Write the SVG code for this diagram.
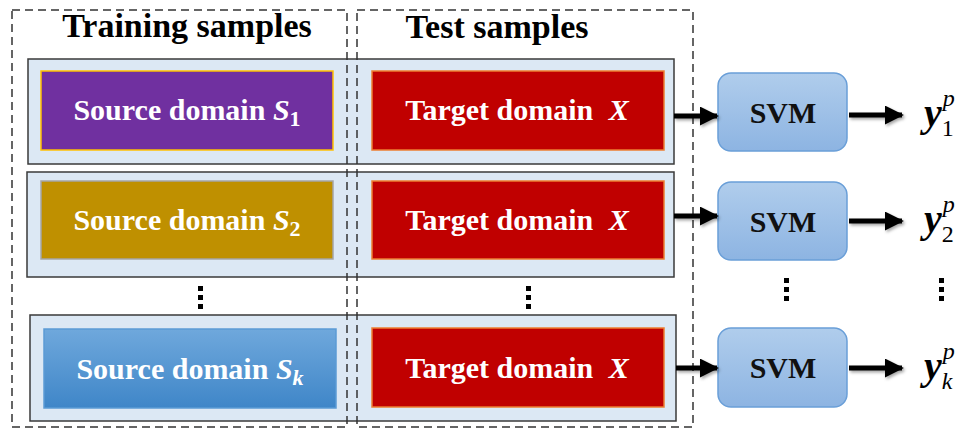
<svg xmlns="http://www.w3.org/2000/svg" width="969" height="428" viewBox="0 0 969 428">
<defs>
<linearGradient id="gk" x1="0" y1="0" x2="0" y2="1"><stop offset="0" stop-color="#6fa8dc"/><stop offset="1" stop-color="#3f86c8"/></linearGradient>
<linearGradient id="gs" x1="0" y1="0" x2="0" y2="1"><stop offset="0" stop-color="#b0cdec"/><stop offset="1" stop-color="#8db4e2"/></linearGradient>
<marker id="ah" viewBox="0 0 10 10" refX="9" refY="5" markerWidth="3.8" markerHeight="3.8" orient="auto" markerUnits="strokeWidth"><path d="M0,0 L10,5 L0,10 Z" fill="#000"/></marker>
<filter id="sh" filterUnits="userSpaceOnUse" x="0" y="0" width="969" height="428"><feDropShadow dx="1.5" dy="2" stdDeviation="1.5" flood-color="#000" flood-opacity="0.35"/></filter>
</defs>
<style>
.hdr{font-family:"Liberation Serif",serif;font-weight:bold;font-size:34px;fill:#000;text-anchor:middle}
.lbl{font-family:"Liberation Serif",serif;font-weight:bold;font-size:30px;fill:#fff;text-anchor:middle}
.svm{font-family:"Liberation Serif",serif;font-weight:bold;font-size:30px;fill:#111;text-anchor:middle}
.out{font-family:"Liberation Serif",serif;font-weight:bold;font-style:italic;font-size:40px;fill:#000}
.outer{fill:#dce8f4;stroke:#3a3a3a;stroke-width:1.5}
.dash{fill:none;stroke:#333;stroke-width:1.5;stroke-dasharray:8 5}
.svmbox{fill:url(#gs);stroke:#6a9fd8;stroke-width:1.5}
.arr{stroke:#000;stroke-width:5;fill:none;marker-end:url(#ah)}
.dot{fill:#000}
</style>
<rect width="969" height="428" fill="#fff"/>

<g id="row1">
<rect class="outer" x="28" y="59" width="646" height="105"/>
<g id="source1"><rect x="41" y="71" width="292" height="79" fill="#7030a0" stroke="#ffc000" stroke-width="1.5"/>
<text class="lbl" x="187" y="120">Source domain <tspan font-style="italic">S</tspan><tspan font-size="22" dy="6">1</tspan></text></g>
<g id="target1"><rect x="372" y="71" width="292" height="79" fill="#c00000" stroke="#ed7d31" stroke-width="1.5"/>
<text class="lbl" x="517" y="120">Target domain <tspan font-style="italic" dx="8">X</tspan></text></g>
</g>

<g id="row2">
<rect class="outer" x="27" y="172" width="647" height="105"/>
<g id="source2"><rect x="41" y="181" width="292" height="78" fill="#bf9000" stroke="#a5a5a5" stroke-width="1.5"/>
<text class="lbl" x="187" y="230">Source domain <tspan font-style="italic">S</tspan><tspan font-size="22" dy="6">2</tspan></text></g>
<g id="target2"><rect x="372" y="181" width="292" height="78" fill="#c00000" stroke="#ed7d31" stroke-width="1.5"/>
<text class="lbl" x="517" y="230">Target domain <tspan font-style="italic" dx="8">X</tspan></text></g>
</g>

<g id="row3">
<rect class="outer" x="30" y="315" width="646" height="106"/>
<g id="sourcek"><rect x="44" y="329" width="292" height="79" fill="url(#gk)" stroke="#5b9bd5" stroke-width="1.5"/>
<text class="lbl" x="190" y="379">Source domain <tspan font-style="italic">S</tspan><tspan font-size="22" dy="6" font-style="italic">k</tspan></text></g>
<g id="targetk"><rect x="372" y="328" width="292" height="79" fill="#c00000" stroke="#ed7d31" stroke-width="1.5"/>
<text class="lbl" x="517" y="378">Target domain <tspan font-style="italic" dx="8">X</tspan></text></g>
</g>

<g id="training-samples">
<rect class="dash" x="12" y="10" width="335" height="417"/>
<text class="hdr" x="187" y="37">Training samples</text>
</g>
<g id="test-samples">
<rect class="dash" x="357" y="10" width="336" height="417"/>
<text class="hdr" x="497" y="38">Test samples</text>
</g>

<g id="svm1"><rect class="svmbox" x="718" y="73" width="129" height="78" rx="13"/><text class="svm" x="783" y="123">SVM</text></g>
<g id="svm2"><rect class="svmbox" x="718" y="182" width="129" height="78" rx="13"/><text class="svm" x="783" y="232">SVM</text></g>
<g id="svmk"><rect class="svmbox" x="718" y="328" width="129" height="79" rx="13"/><text class="svm" x="783" y="378">SVM</text></g>

<g id="y1"><text class="out" x="924" y="126">y<tspan font-size="24" dx="1" dy="-20" font-weight="normal">p</tspan><tspan font-size="24" dx="-13" dy="30" font-style="normal" font-weight="normal">1</tspan></text></g>
<g id="y2"><text class="out" x="924" y="232">y<tspan font-size="24" dx="1" dy="-20" font-weight="normal">p</tspan><tspan font-size="24" dx="-13" dy="30" font-style="normal" font-weight="normal">2</tspan></text></g>
<g id="yk"><text class="out" x="924" y="379">y<tspan font-size="24" dx="1" dy="-20" font-weight="normal">p</tspan><tspan font-size="24" dx="-13" dy="30" font-weight="normal">k</tspan></text></g>

<g id="ellipses">
<rect class="dot" x="198" y="286" width="5" height="5"/><rect class="dot" x="198" y="295" width="5" height="5"/><rect class="dot" x="198" y="304" width="5" height="5"/>
<rect class="dot" x="526" y="286" width="5" height="5"/><rect class="dot" x="526" y="295" width="5" height="5"/><rect class="dot" x="526" y="304" width="5" height="5"/>
<rect class="dot" x="784" y="278" width="5" height="5"/><rect class="dot" x="784" y="287" width="5" height="5"/><rect class="dot" x="784" y="296" width="5" height="5"/>
<rect class="dot" x="939" y="278" width="5" height="5"/><rect class="dot" x="939" y="287" width="5" height="5"/><rect class="dot" x="939" y="296" width="5" height="5"/>
</g>

<g id="connectors" filter="url(#sh)">
<line class="arr" x1="674" y1="116" x2="717" y2="116"/>
<line class="arr" x1="674" y1="216" x2="717" y2="216"/>
<line class="arr" x1="676" y1="368" x2="717" y2="368"/>
<line class="arr" x1="849" y1="115" x2="902" y2="115"/>
<line class="arr" x1="849" y1="221" x2="902" y2="221"/>
<line class="arr" x1="849" y1="368" x2="902" y2="368"/>
</g>
</svg>
